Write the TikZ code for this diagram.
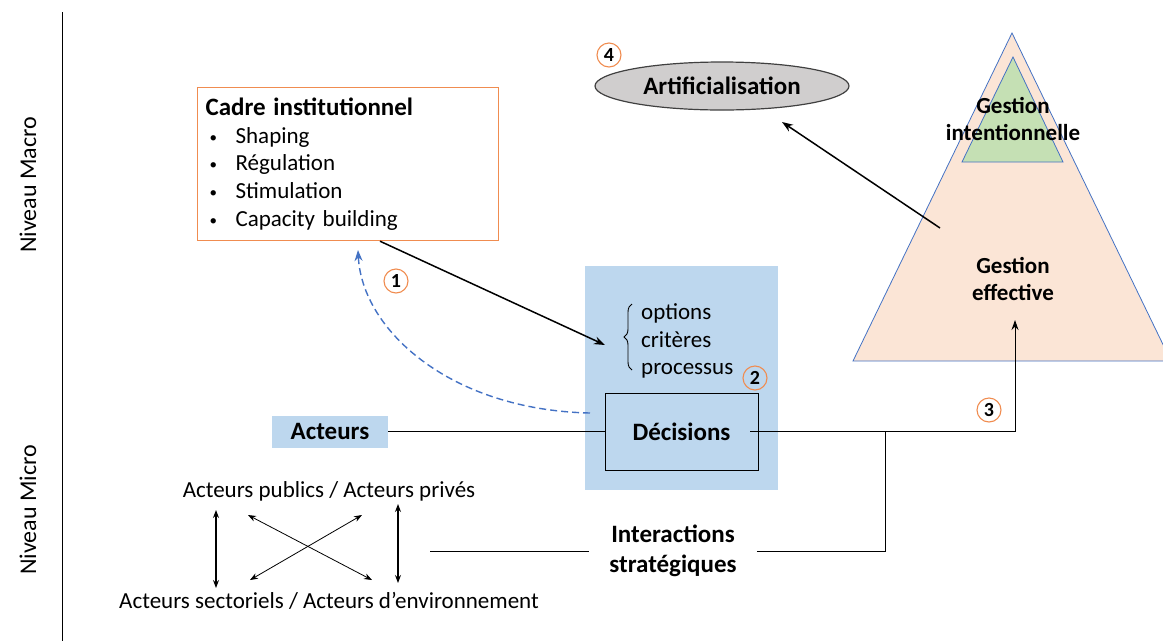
\documentclass[tikz,border=0pt]{standalone}
\usepackage{fontspec}
\setmainfont{Carlito}
\usepackage{tikz}
\usetikzlibrary{calc,positioning,arrows,arrows.meta,shapes,decorations.pathreplacing}
\definecolor{orangebox}{RGB}{240,140,80}
\definecolor{bleuzone}{RGB}{189,215,238}
\definecolor{bleutrait}{RGB}{68,114,196}
\definecolor{rose}{RGB}{251,229,214}
\definecolor{vert}{RGB}{197,224,180}
\definecolor{gris}{RGB}{208,206,206}
\newcommand{\txt}{\fontsize{23}{27.7}\selectfont}
\newcommand{\txtb}{\fontsize{25}{30}\selectfont\bfseries}
\newcommand{\txtg}{\fontsize{23}{27.5}\selectfont\bfseries}
\newcommand{\puce}{\hspace*{4pt}\makebox[26pt][l]{\fontsize{15}{15}\selectfont\raisebox{1pt}{\textbullet}}}
\tikzstyle{cadre}     = [rectangle, draw=orangebox, line width=1.2pt, text width=285pt, inner sep=8pt, align=left, font=\txt]
\tikzstyle{zone}      = [rectangle, fill=bleuzone, inner sep=0pt]
\tikzstyle{decision}  = [rectangle, draw=black, line width=0.9pt, minimum width=153pt, minimum height=77pt, font=\txtb]
\tikzstyle{numero}    = [circle, draw=orangebox, line width=1.1pt, minimum size=24pt, inner sep=0pt, font=\fontsize{20}{20}\selectfont\bfseries]
\tikzstyle{arrow}     = [line width=1.5pt,-{Stealth[length=11pt,width=8pt]}]
\tikzstyle{darrow}    = [line width=1.1pt,{Stealth[length=8pt,width=6pt]}-{Stealth[length=8pt,width=6pt]}]
\tikzstyle{lien}      = [line width=1pt]

\begin{document}
\begin{tikzpicture}[x=1pt,y=-1pt]
		\useasboundingbox (0,0) rectangle (1163,641);

		% niveaux
		\draw[lien] (62,12) -- (62,641);
		\node[rotate=90, font=\fontsize{24}{24}\selectfont] (macro) at (28,185) {Niveau Macro};
		\node[rotate=90, font=\fontsize{24}{24}\selectfont] (micro) at (28,510) {Niveau Micro};

		% pyramide
		\begin{scope}
			\clip (0,0) rectangle (1163,641);
			\filldraw[fill=rose, draw=bleutrait, line width=0.8pt] (1012,33) -- (1171,361) -- (853,361) -- cycle;
			\filldraw[fill=vert, draw=bleutrait, line width=0.8pt] (1013,57) -- (1063,162) -- (962,162) -- cycle;
		\end{scope}
		\node[font=\txtg, align=center] (gint) at (1013,119) {Gestion\\intentionnelle};
		\node[font=\txtg, align=center] (geff) at (1013,279) {Gestion\\effective};

		% artificialisation
		\node[ellipse, fill=gris, draw=black!75, line width=1.2pt, minimum width=254pt, minimum height=48pt, font=\txtb] (artif) at (722,86) {Artificialisation};
		\node[numero] (n4) at (609,55) {4};
		\coordinate (pyr) at (940,228);
		\coordinate (artbas) at (782,122);
		\draw[arrow] (pyr) -- (artbas);

		% cadre institutionnel
		\node[cadre, anchor=north west, minimum height=153pt] (cad) at (197,87)
			{{\txtb Cadre institutionnel}\\
			\puce Shaping\\
			\puce Régulation\\
			\puce Stimulation\\
			\puce Capacity building};
		\node[numero] (n1) at (396,281) {1};

		% zone decisions
		\node[zone, minimum width=193pt, minimum height=224pt] (zone) at (681.5,378) {};
		\draw[decorate, decoration={brace, amplitude=8pt}, line width=0.9pt] (632,370) -- (632,304);
		\node[anchor=west, align=left, inner sep=2pt, font=\txt] (crit) at (639,341) {options\\critères\\processus};
		\node[numero] (n2) at (755,378) {2};
		\node[decision] (dec) at (681.5,431.5) {Décisions};

		\coordinate (optin) at (605,345);
		\draw[arrow] ($(cad.south west)+(183,0)$) -- (optin);

		\coordinate (retour) at (590,413);
		\coordinate (cadbas) at (358,250);
		\draw[arrow, line width=1.4pt, bleutrait, dash pattern=on 7pt off 4pt] (retour) .. controls (450,410) and (362,330) .. (cadbas);

		% acteurs
		\node[zone, minimum width=116pt, minimum height=32pt, font=\txtb] (act) at (330,431.5) {Acteurs};
		\draw[lien] (act.east) -- (dec.west);

		\coordinate (geffbas) at (1015,320);
		\draw[lien, -{Stealth[length=10pt,width=7pt]}] ($(dec.east)+(-8,0)$) -| (geffbas);
		\node[numero] (n3) at (989,410) {3};

		% interactions
		\node[font=\txtb, align=center, inner xsep=20pt] (inter) at (673,551) {Interactions\\stratégiques};
		\coordinate (jonction) at (885,431.5);
		\coordinate (groupe) at (430,551);
		\draw[lien] (inter.east) -| (jonction);
		\draw[lien] (groupe) -- (inter.west);

		\node[font=\txt] (pub) at (329,491) {Acteurs publics / Acteurs privés};
		\node[font=\txt] (sect) at (329,601) {Acteurs sectoriels / Acteurs d’environnement};

		\coordinate (a1) at (216,510);
		\coordinate (a2) at (216,588);
		\coordinate (b1) at (398,504);
		\coordinate (b2) at (398,583);
		\coordinate (c1) at (248,515);
		\coordinate (c2) at (372,580);
		\coordinate (d1) at (362,515);
		\coordinate (d2) at (250,580);
		\draw[darrow] (a1) -- (a2);
		\draw[darrow] (b1) -- (b2);
		\draw[darrow, line width=0.8pt] (c1) -- (c2);
		\draw[darrow, line width=0.8pt] (d1) -- (d2);
	\end{tikzpicture}
\end{document}
